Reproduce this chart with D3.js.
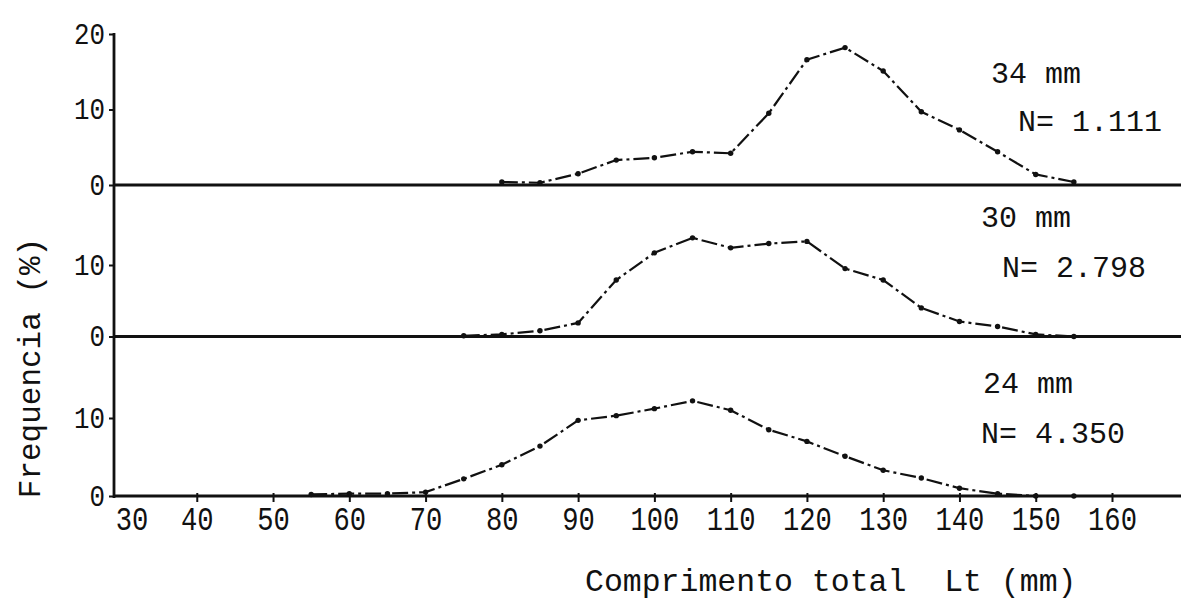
<!DOCTYPE html>
<html>
<head>
<meta charset="utf-8">
<script src="https://cdn.jsdelivr.net/npm/d3@7"></script>
<style>
	body { margin: 0; background: #fff; }
	text { font-family: "Liberation Mono", "DejaVu Sans Mono", monospace; fill: #111; }
</style>
</head>
<body>
<div id="basket"></div>
<script>
/* length frequency distributions, three mesh sizes, 5 mm classes */

var lengths34 = [80,85,90,95,100,105,110,115,120,125,130,135,140,145,150,155];
var freq34 = [0.4,0.3,1.5,3.3,3.6,4.4,4.2,9.5,16.6,18.2,15.1,9.7,7.3,4.4,1.4,0.4];

var lengths30 = [75,80,85,90,95,100,105,110,115,120,125,130,135,140,145,150,155];
var freq30 = [0.1,0.3,0.8,1.9,7.9,11.7,13.8,12.4,13.0,13.3,9.5,7.9,4.0,2.1,1.4,0.3,0];

var lengths24 = [55,60,65,70,75,80,85,90,95,100,105,110,115,120,125,130,135,140,145,150,155];
var freq24 = [0.2,0.3,0.3,0.5,2.2,4.0,6.4,9.7,10.3,11.2,12.2,11.0,8.5,7.0,5.1,3.3,2.3,1.0,0.3,0,0];

var meshLabels = ["34 mm","30 mm","24 mm"];
var sampleLabels = ["N= 1.111","N= 2.798","N= 4.350"];
var xTicks = [30,40,50,60,70,80,90,100,110,120,130,140,150,160];

var w = 1181, h = 600;

var svg = d3.select(document.getElementById("basket"))
	.append("svg")
	.attr("width", w)
	.attr("height", h)
	.attr("viewBox", "0 0 " + w + " " + h);

var x = d3.scaleLinear()
	.domain([30,160])
	.range([120.5,1112]);

var axisX = 114;

// plotter digits are tall and narrow: squeeze a bigger font into a fixed advance
narrow = function(sel, adv) {
	sel.each(function() {
		var t = d3.select(this);
		var n = t.text().length;
		t.attr("textLength", n * adv).attr("lengthAdjust", "spacingAndGlyphs");
	});
};

// one strip per mesh size, stacked top to bottom
var panels = [
	{len: lengths34, freq: freq34, y: d3.scaleLinear().domain([0,20]).range([185,34]), ticks: [0,10,20], mesh: [991,83], n: [1018,131]},
	{len: lengths30, freq: freq30, y: d3.scaleLinear().domain([0,10]).range([336.5,265]), ticks: [0,10], mesh: [981,227], n: [1002,277]},
	{len: lengths24, freq: freq24, y: d3.scaleLinear().domain([0,10]).range([496,418]), ticks: [0,10], mesh: [983,393], n: [981,443]}
];

for (var i=0; i<panels.length; i++) {
	var p = panels[i];

	// baseline across the whole width
	svg.append("line")
		.attr("x1", axisX)
		.attr("x2", w)
		.attr("y1", p.y(0))
		.attr("y2", p.y(0))
		.style("stroke", "#111")
		.style("stroke-width", 2.8);

	var yAxis = svg.append("g")
		.attr("class", "yaxis")
		.attr("transform", "translate(" + axisX + ",0)")
		.call(d3.axisLeft(p.y).tickValues(p.ticks).tickSize(5).tickPadding(4).tickFormat(d3.format("d")));
	yAxis.select(".domain").remove();
	yAxis.selectAll("line").style("stroke", "#111").style("stroke-width", 2);
	yAxis.selectAll("text")
		.style("font-size", "29px")
		.style("font-family", "'Liberation Mono', monospace")
		.call(narrow, 15.5);

	var line = d3.line()
		.x(function(d, j) {return x(p.len[j]);})
		.y(function(d) {return p.y(d);});

	svg.append("path")
		.datum(p.freq)
		.attr("d", line)
		.style("fill", "none")
		.style("stroke", "#111")
		.style("stroke-width", 2.2)
		.style("stroke-dasharray", "16,4,3,4");

	svg.append("g")
		.selectAll("circle")
		.data(p.freq)
		.enter()
		.append("circle")
		.attr("cx", function(d, j) {return x(p.len[j]);})
		.attr("cy", function(d) {return p.y(d);})
		.attr("r", 2.7)
		.style("fill", "#111");

	svg.append("text")
		.attr("x", p.mesh[0])
		.attr("y", p.mesh[1])
		.style("font-size", "30px")
		.style("white-space", "pre")
		.text(meshLabels[i]);

	svg.append("text")
		.attr("x", p.n[0])
		.attr("y", p.n[1])
		.style("font-size", "30px")
		.style("white-space", "pre")
		.text(sampleLabels[i]);
}

// vertical axis
svg.append("line")
	.attr("x1", axisX)
	.attr("x2", axisX)
	.attr("y1", panels[0].y(20) - 1)
	.attr("y2", panels[2].y(0) + 2)
	.style("stroke", "#111")
	.style("stroke-width", 2.8);

// length axis on the bottom strip
var xAxis = svg.append("g")
	.attr("transform", "translate(0," + panels[2].y(0) + ")")
	.call(d3.axisBottom(x).tickValues(xTicks).tickSize(6).tickPadding(5));
xAxis.select(".domain").remove();
xAxis.selectAll("line")
	.attr("y1", -3)
	.style("stroke", "#111")
	.style("stroke-width", 2);
xAxis.selectAll("text")
	.style("font-size", "33px")
	.style("font-family", "'Liberation Mono', monospace")
	.call(narrow, 16.3);
xAxis.selectAll(".tick")
	.filter(function(d) {return d == 30;})
	.select("text")
	.attr("dx", 11);
xAxis.selectAll(".tick")
	.filter(function(d) {return d == 30;})
	.select("line")
	.remove();

svg.append("text")
	.attr("x", 585)
	.attr("y", 591)
	.style("font-size", "31.5px")
	.style("white-space", "pre")
	.text("Comprimento total  Lt (mm)");

svg.append("text")
	.attr("transform", "translate(40,368) rotate(-90)")
	.attr("text-anchor", "middle")
	.style("font-size", "31px")
	.style("white-space", "pre")
	.text("Frequencia (%)");
</script>
</body>
</html>
